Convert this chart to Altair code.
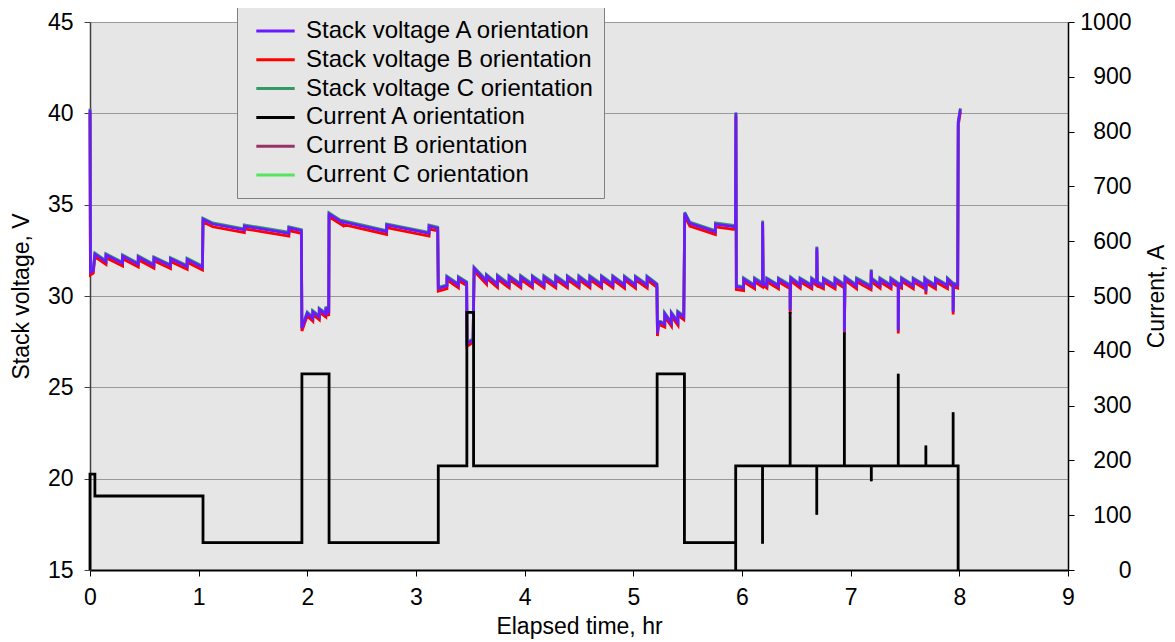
import altair as alt
import pandas as pd

# ---------------- data ----------------
series_names = [
    "Stack voltage A orientation",
    "Stack voltage B orientation",
    "Stack voltage C orientation",
    "Current A orientation",
    "Current B orientation",
    "Current C orientation",
]
series_colors = ["#6a1aff", "#ff0000", "#339966", "#000000", "#993366", "#55e65f"]

# Stack voltage, A orientation: (elapsed hr, volts)
volt_A_points = [
    (0.000, 40.20), (0.004, 31.30), (0.030, 31.40), (0.045, 32.29),
    (0.147, 31.88), (0.147, 32.25),
    (0.300, 31.79), (0.300, 32.19),
    (0.444, 31.74), (0.444, 32.14),
    (0.588, 31.68), (0.588, 32.08),
    (0.741, 31.65), (0.741, 32.04),
    (0.894, 31.61), (0.894, 32.00),
    (1.035, 31.58),
    (1.040, 34.20), (1.130, 33.94),
    (1.420, 33.62), (1.420, 33.83),
    (1.830, 33.43), (1.830, 33.73),
    (1.945, 33.58),
    (1.950, 28.23), (1.999, 29.06),
    (2.050, 28.78), (2.050, 29.14),
    (2.110, 28.85), (2.110, 29.27),
    (2.170, 29.00), (2.170, 29.36),
    (2.197, 29.06),
    (2.200, 34.49),
    (2.326, 34.01), (2.326, 34.07),
    (2.730, 33.52), (2.730, 33.89),
    (3.120, 33.43), (3.120, 33.83),
    (3.200, 33.71),
    (3.205, 30.42),
    (3.285, 30.55), (3.285, 31.03),
    (3.390, 30.60), (3.390, 31.00),
    (3.466, 30.72), (3.470, 27.40), (3.525, 27.60),
    (3.535, 31.52),
    (3.649, 30.80), (3.649, 31.12),
    (3.750, 30.62), (3.750, 31.08),
    (3.857, 30.60), (3.857, 31.06),
    (3.964, 30.60), (3.964, 31.06),
    (4.071, 30.60), (4.071, 31.05),
    (4.178, 30.60), (4.178, 31.05),
    (4.286, 30.60), (4.286, 31.05),
    (4.393, 30.60), (4.393, 31.05),
    (4.500, 30.60), (4.500, 31.05),
    (4.600, 30.60), (4.600, 31.05),
    (4.708, 30.60), (4.708, 31.05),
    (4.812, 30.60), (4.812, 31.05),
    (4.919, 30.58), (4.919, 31.03),
    (5.020, 30.58), (5.020, 31.03),
    (5.127, 30.58), (5.127, 31.03),
    (5.217, 30.62),
    (5.222, 27.96), (5.232, 28.60),
    (5.289, 28.45), (5.289, 29.02),
    (5.350, 28.50), (5.350, 29.05),
    (5.410, 28.55), (5.410, 29.10),
    (5.464, 28.85),
    (5.473, 34.53), (5.520, 33.98),
    (5.755, 33.52), (5.755, 33.94),
    (5.923, 33.80),
    (5.940, 33.80), (5.944, 40.00), (5.948, 30.51),
    (6.015, 30.45), (6.015, 30.93),
    (6.116, 30.55), (6.116, 30.93),
    (6.189, 30.65), (6.190, 34.07), (6.195, 30.72),
    (6.229, 30.58), (6.229, 30.93),
    (6.336, 30.55), (6.336, 30.93),
    (6.443, 30.55), (6.443, 29.20), (6.449, 30.98),
    (6.535, 30.58), (6.535, 30.93),
    (6.642, 30.55), (6.642, 30.93),
    (6.688, 30.73), (6.689, 32.65), (6.693, 30.72),
    (6.749, 30.55), (6.749, 30.93),
    (6.856, 30.55), (6.856, 30.93),
    (6.942, 30.58), (6.942, 28.05), (6.948, 31.00),
    (7.055, 30.55), (7.055, 30.93),
    (7.187, 30.50), (7.189, 31.40), (7.192, 30.93),
    (7.270, 30.58), (7.270, 30.93),
    (7.371, 30.55), (7.371, 30.93),
    (7.438, 30.65), (7.438, 28.10), (7.442, 30.65),
    (7.469, 30.58), (7.469, 30.95),
    (7.576, 30.55), (7.576, 30.93),
    (7.683, 30.55), (7.683, 30.93),
    (7.692, 30.88), (7.692, 30.24), (7.696, 30.86),
    (7.780, 30.55), (7.780, 30.93),
    (7.891, 30.55), (7.891, 30.93),
    (7.943, 30.65), (7.943, 29.14), (7.947, 30.65),
    (7.985, 30.58), (7.990, 39.50), (8.010, 40.22),
]
# B reads slightly below A, C slightly above A (volts)
volt_offset_B = -0.15
volt_offset_C = 0.06

# Current, A orientation: (elapsed hr, amps); B and C lie on top of A
curr_A_points = [
    (0.000, 0), (0.000, 175), (0.045, 175), (0.045, 135),
    (1.040, 135), (1.040, 50), (1.950, 50), (1.950, 358),
    (2.200, 358), (2.200, 50), (3.205, 50), (3.205, 190),
    (3.468, 190), (3.468, 470), (3.530, 470), (3.530, 190),
    (5.219, 190), (5.219, 358), (5.470, 358), (5.470, 50),
    (5.942, 50), (5.942, 0), (5.942, 190),
    (6.189, 190), (6.189, 48), (6.189, 190),
    (6.443, 190), (6.443, 471), (6.443, 190),
    (6.688, 190), (6.688, 101), (6.688, 190),
    (6.942, 190), (6.942, 434), (6.942, 190),
    (7.190, 190), (7.190, 162), (7.190, 190),
    (7.438, 190), (7.438, 358), (7.438, 190),
    (7.692, 190), (7.692, 227), (7.692, 190),
    (7.943, 190), (7.943, 288), (7.943, 190),
    (7.989, 190), (7.989, 0),
]

x_ticks = list(range(0, 10))
volt_ticks = [15, 20, 25, 30, 35, 40, 45]
curr_ticks = list(range(0, 1001, 100))

# ---------------- tables ----------------
vrows = []
for name, off in [(series_names[0], 0.0), (series_names[1], volt_offset_B), (series_names[2], volt_offset_C)]:
    for k, (t, v) in enumerate(volt_A_points):
        vrows.append({"series": name, "t": t, "v": round(v + off, 3), "idx": k})
df_v = pd.DataFrame(vrows)

crows = []
for name in series_names[3:]:
    for k, (t, c) in enumerate(curr_A_points):
        crows.append({"series": name, "t": t, "c": c, "idx": k})
df_c = pd.DataFrame(crows)

FONT = "Liberation Sans"

color_scale = alt.Scale(domain=series_names, range=series_colors)
legend = alt.Legend(
    title=None, orient="none", legendX=147, legendY=-15,
    labelFont=FONT, labelFontSize=24, labelColor="black", labelLimit=600,
    symbolType="M-1.6,0H1.6", symbolSize=576, symbolStrokeWidth=3,
    symbolOffset=14.5, labelOffset=17, rowPadding=2.8,
    padding=10.5, fillColor="#e6e6e6", strokeColor="#808080",
)

x_enc = alt.X(
    "t:Q",
    scale=alt.Scale(domain=[0, 9], nice=False, zero=False),
    axis=alt.Axis(
        values=x_ticks, title="Elapsed time, hr", grid=False, format="d",
        tickSize=6, tickColor="black", domainColor="black", domainWidth=2,
        labelFont=FONT, labelFontSize=23, labelColor="black", labelPadding=10,
        labelFlush=False, titleFont=FONT, titleFontSize=23, titleColor="black",
        titleFontWeight="normal", titlePadding=6,
    ),
)

yv_scale = alt.Scale(domain=[15, 45], nice=False, zero=False)
yv_axis = alt.Axis(
    values=volt_ticks, title="Stack voltage, V", grid=True, gridColor="#999999",
    gridWidth=1, tickSize=6, tickColor="#404040", domainColor="#404040",
    domainWidth=1.5, labelFont=FONT, labelFontSize=23, labelColor="black",
    labelPadding=11, titleFont=FONT, titleFontSize=23, titleColor="black",
    titleFontWeight="normal", titlePadding=14,
)
yc_scale = alt.Scale(domain=[0, 1000], nice=False, zero=False)
yc_axis = alt.Axis(
    orient="right", values=curr_ticks, title="Current, A", grid=False, format="d",
    tickSize=6, tickColor="black", domainColor="black", domainWidth=1.5,
    labelFont=FONT, labelFontSize=23, labelColor="black", labelAlign="right",
    labelPadding=57, titleFont=FONT, titleFontSize=23, titleColor="black",
    titleFontWeight="normal", titleAngle=270, titleBaseline="top",
    titleX=77, titleY=274, titleAlign="center",
)


def vlayer(name, width):
    return alt.Chart(df_v).transform_filter(alt.datum.series == name).mark_line(
        strokeWidth=width
    ).encode(
        x=x_enc,
        y=alt.Y("v:Q", scale=yv_scale, axis=yv_axis),
        color=alt.Color("series:N", scale=color_scale, legend=legend),
        order=alt.Order("idx:Q"),
    )


def clayer(name, width):
    return alt.Chart(df_c).transform_filter(alt.datum.series == name).mark_line(
        strokeWidth=width
    ).encode(
        x=x_enc,
        y=alt.Y("c:Q", scale=yc_scale, axis=yc_axis),
        color=alt.Color("series:N", scale=color_scale, legend=legend),
        order=alt.Order("idx:Q"),
    )


volt = alt.layer(
    vlayer(series_names[1], 2.8), vlayer(series_names[2], 2.8), vlayer(series_names[0], 2.8)
)
curr = alt.layer(
    clayer(series_names[4], 1.5), clayer(series_names[5], 1.5), clayer(series_names[3], 2.8)
)

chart = alt.layer(volt, curr).resolve_scale(y="independent").properties(
    width=978, height=548,
    autosize=alt.AutoSizeParams(type="none"),
    padding={"left": 82, "top": 14, "right": 99, "bottom": 70},
    background="white",
).configure_view(fill="#e6e6e6", strokeWidth=0)

chart.save("out.html", embed_options={"renderer": "svg", "actions": False})
